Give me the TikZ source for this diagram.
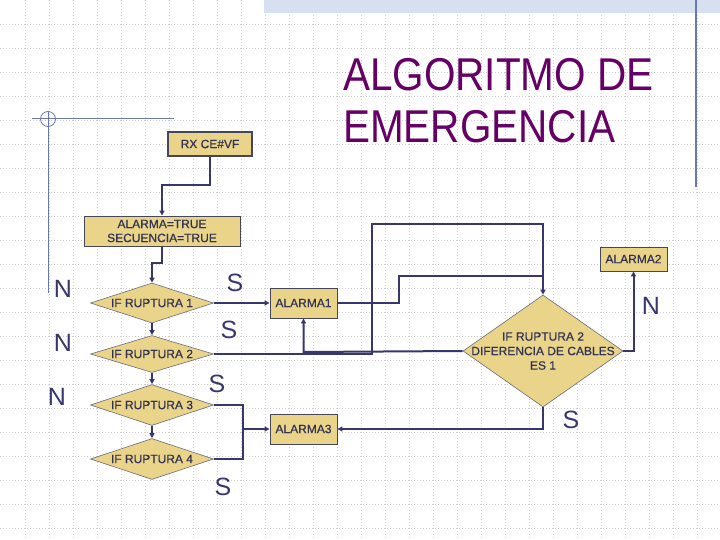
\documentclass[tikz,border=0pt]{standalone}
\usepackage{fontspec}
\setmainfont{Liberation Sans}
\newfontfamily\boxfont[FakeBold=0.6]{Liberation Sans}
\usetikzlibrary{shapes.geometric,arrows.meta}
\definecolor{boxfill}{RGB}{233,212,138}
\definecolor{navy}{RGB}{55,55,110}
\definecolor{boxline}{RGB}{70,70,90}
\definecolor{txt}{RGB}{50,50,85}
\definecolor{titlecol}{RGB}{102,0,102}
\definecolor{gridcol}{RGB}{205,205,210}
\definecolor{deco}{RGB}{105,120,175}
\definecolor{band}{RGB}{215,224,240}
\tikzset{
  box/.style={rectangle,draw=boxline,line width=0.9pt,fill=boxfill,inner sep=0pt,text=txt,font=\boxfont\fontsize{12}{14}\selectfont,align=center},
  dia/.style={diamond,draw=boxline!80,line width=0.6pt,fill=boxfill,inner sep=0pt,text=txt},
  diatext/.style={text=txt,font=\boxfont\fontsize{12}{14.5}\selectfont,align=center,inner sep=0pt},
  conn/.style={draw=navy,line width=2pt},
  arr/.style={conn,-{Triangle[length=5pt,width=5pt]}},
  yn/.style={text=navy,font=\fontsize{25}{25}\selectfont,inner sep=0pt},
  ttl/.style={text=titlecol,font=\fontsize{46}{46}\selectfont,inner sep=0pt,anchor=base west},
}
\begin{document}
\begin{tikzpicture}[x=1pt,y=-1pt]
\useasboundingbox (0,0) rectangle (720,540);
\fill[white] (0,0) rectangle (720,540);
% background grid
\foreach \i in {0,...,28} {\draw[gridcol,line width=0.8pt,dash pattern=on 1pt off 2pt] (25+24*\i,0) -- (25+24*\i,540);}
\foreach \j in {1,...,22} {\draw[gridcol,line width=0.8pt,dash pattern=on 1pt off 2pt] (0,24*\j) -- (720,24*\j);}
% slide decoration
\fill[band] (264,0) rectangle (720,13);
\draw[deco,line width=1.2pt] (696,0) -- (696,187);
\draw[deco,line width=1pt] (32,119) -- (174,119);
\draw[deco,line width=1pt] (48,111) -- (48,293);
\draw[deco,line width=0.8pt] (48,119) circle (7.5);
% title
\node[ttl] (t1) at (343,91) {\scalebox{0.88}[1]{ALGORITMO DE}};
\node[ttl] (t2) at (343,143) {\scalebox{0.88}[1]{EMERGENCIA}};
% nodes
\node[box,minimum width=84,minimum height=24,line width=1.3pt] (rx) at (210,144) {RX CE\#VF};
\node[box,minimum width=156,minimum height=30] (init) at (162,231) {ALARMA=TRUE\\SECUENCIA=TRUE};
\node[dia,minimum width=123,minimum height=40,label={[diatext]center:IF RUPTURA 1}] (d1) at (152,303) {};
\node[dia,minimum width=123,minimum height=37,label={[diatext]center:IF RUPTURA 2}] (d2) at (152,354) {};
\node[dia,minimum width=123,minimum height=41,label={[diatext]center:IF RUPTURA 3}] (d3) at (152,405) {};
\node[dia,minimum width=123,minimum height=41,label={[diatext]center:IF RUPTURA 4}] (d4) at (152,459) {};
\node[box,minimum width=67,minimum height=30] (a1) at (303.5,303) {ALARMA1};
\node[box,minimum width=67,minimum height=30] (a3) at (303.5,429) {ALARMA3};
\node[box,minimum width=67,minimum height=24] (a2) at (633.5,259) {ALARMA2};
\node[dia,minimum width=160,minimum height=112,label={[diatext]center:IF RUPTURA 2\\DIFERENCIA DE CABLES\\ES 1}] (bd) at (543,351) {};
% connectors
\draw[arr] (rx.south) -- (210,185) -- (162,185) -- (init.north);
\draw[arr] (init.south) -- (162,263) -- (152,263) -- (d1.north);
\draw[arr] (d1.south) -- (d2.north);
\draw[arr] (d2.south) -- (d3.north);
\draw[arr] (d3.south) -- (d4.north);
\draw[arr] (d1.east) -- (a1.west);
\draw[arr] (d2.east) -- (372,354) -- (372,224) -- (543,224) -- (bd.north);
\draw[conn] (a1.east) -- (399,303) -- (399,276) -- (543,276);
\draw[arr] (bd.west) -- (303.5,352) -- (a1.south);
\draw[arr] (bd.east) -- (633.5,351) -- (a2.south);
\draw[arr] (bd.south) -- (543,429) -- (a3.east);
\draw[conn] (d3.east) -- (243,405) -- (243,459) -- (d4.east);
\draw[arr] (243,429) -- (a3.west);
% labels
\node[yn] (n1) at (63,289) {N};
\node[yn] (n2) at (63,343) {N};
\node[yn] (n3) at (57,397) {N};
\node[yn] (s1) at (235,283) {S};
\node[yn] (s2) at (229,330) {S};
\node[yn] (s3) at (217,384) {S};
\node[yn] (s4) at (223,487) {S};
\node[yn] (n4) at (651,306) {N};
\node[yn] (s5) at (571,420) {S};
\end{tikzpicture}
\end{document}
